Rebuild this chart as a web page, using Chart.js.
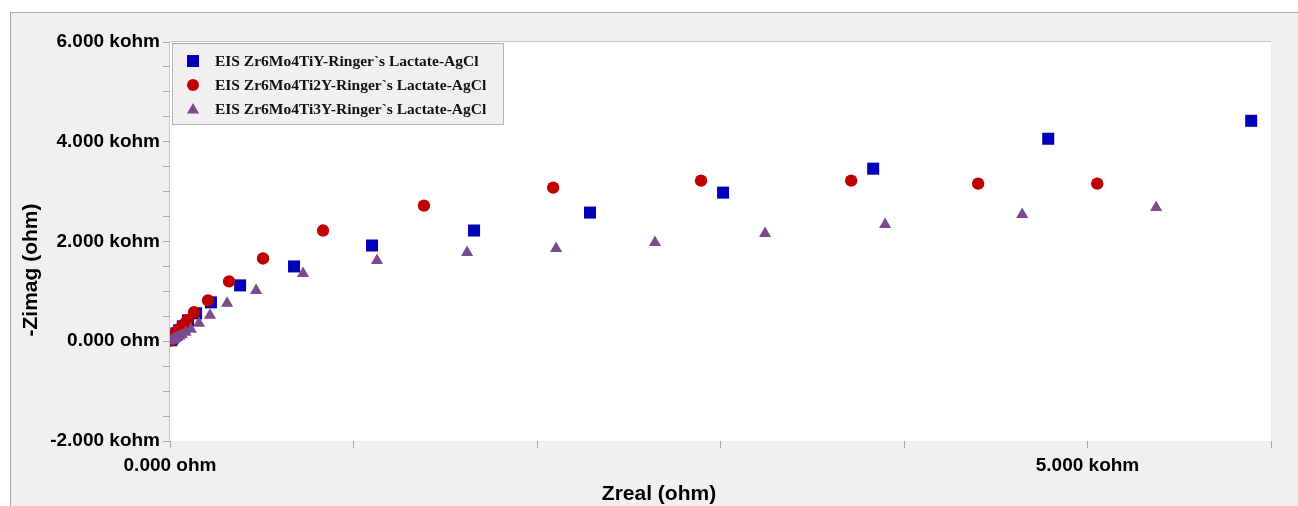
<!DOCTYPE html>
<html>
<head>
<meta charset="utf-8">
<script src="https://cdn.jsdelivr.net/npm/chart.js@4.4.1/dist/chart.umd.min.js"></script>
<style>
  html,body{margin:0;padding:0;background:#fff;}
  #wrap{width:1298px;height:506px;}
</style>
</head>
<body>
<div id="wrap"><canvas id="eis" width="1298" height="506"></canvas></div>
<script>
// series names
const seriesNames = [
  'EIS Zr6Mo4TiY-Ringer`s Lactate-AgCl',
  'EIS Zr6Mo4Ti2Y-Ringer`s Lactate-AgCl',
  'EIS Zr6Mo4Ti3Y-Ringer`s Lactate-AgCl'
];

// Zr6Mo4TiY (ohm)
const tiY_zreal = [5, 10, 15, 25, 35, 50, 70, 98, 142, 223, 382, 676, 1101, 1657, 2289, 3014, 3832, 4786, 5892];
const tiY_zimag = [20, 40, 70, 110, 160, 220, 300, 420, 560, 780, 1120, 1500, 1920, 2220, 2580, 2980, 3460, 4060, 4420];

// Zr6Mo4Ti2Y (ohm)
const ti2Y_zreal = [5, 9, 14, 20, 28, 38, 52, 70, 93, 131, 207, 322, 507, 834, 1384, 2088, 2894, 3712, 4404, 5053];
const ti2Y_zimag = [15, 35, 65, 100, 140, 190, 250, 320, 420, 580, 820, 1200, 1660, 2220, 2720, 3080, 3220, 3220, 3160, 3160];

// Zr6Mo4Ti3Y (ohm)
const ti3Y_zreal = [5, 9, 14, 20, 28, 38, 50, 65, 85, 114, 158, 218, 311, 469, 725, 1128, 1619, 2104, 2643, 3243, 3897, 4644, 5374];
const ti3Y_zimag = [8, 15, 25, 38, 55, 75, 100, 130, 180, 240, 360, 520, 760, 1020, 1360, 1620, 1780, 1860, 1980, 2160, 2340, 2540, 2680];

// tick labels
const xLabelValues = [0, 5000];
const xLabelTexts  = ['0.000 ohm', '5.000 kohm'];
const yLabelValues = [-2000, 0, 2000, 4000, 6000];
const yLabelTexts  = ['-2.000 kohm', '0.000 ohm', '2.000 kohm', '4.000 kohm', '6.000 kohm'];

const colors = ['#0000bb', '#c00000', '#7d4a8e'];
const styles = ['rect', 'circle', 'triangle'];
const radii  = [8.5, 6.2, 7];

const pts = (xs, ys) => xs.map((x, i) => ({x: x, y: ys[i]}));
const tickFont = {family: '"Liberation Sans", Arial, sans-serif', size: 19, weight: 'bold'};

const bgPlugin = {
  id: 'bg',
  beforeDraw(chart){
    const {ctx, width, height, chartArea: a} = chart;
    ctx.save();
    ctx.fillStyle = '#fff';
    ctx.fillRect(0, 0, width, height);
    ctx.fillStyle = '#f0f0f0';
    ctx.fillRect(10, 12, width - 10, height - 12);
    ctx.strokeStyle = '#a8a8a8';
    ctx.lineWidth = 1;
    ctx.strokeRect(10.5, 12.5, width, height);
    ctx.fillStyle = '#fff';
    ctx.fillRect(a.left, a.top, a.right - a.left, a.bottom - a.top);
    ctx.strokeStyle = '#c8c8c8';
    ctx.beginPath();
    ctx.moveTo(a.left - 0.5, a.bottom);
    ctx.lineTo(a.left - 0.5, a.top - 0.5);
    ctx.lineTo(a.right, a.top - 0.5);
    ctx.stroke();
    ctx.restore();
  }
};

const legendTitlesPlugin = {
  id: 'legendTitles',
  afterDraw(chart){
    const ctx = chart.ctx;
    ctx.save();
    // legend box
    ctx.fillStyle = '#f0f0f0';
    ctx.fillRect(172, 43, 331, 81);
    ctx.strokeStyle = '#b4b4b4';
    ctx.lineWidth = 1;
    ctx.strokeRect(172.5, 43.5, 331, 81);
    ctx.font = 'bold 15.5px "Liberation Serif", "Times New Roman", serif';
    ctx.textBaseline = 'middle';
    seriesNames.forEach((name, i) => {
      const y = 61 + i * 24;
      ctx.fillStyle = colors[i];
      Chart.helpers.drawPoint(ctx, {pointStyle: styles[i], radius: [8.5, 6, 7][i], rotation: 0, borderWidth: 0}, 193, y + (i === 2 ? 1 : 0));
      ctx.fillStyle = '#111';
      ctx.fillText(name, 215, y + 1);
    });
    // axis titles
    ctx.fillStyle = '#000';
    ctx.font = 'bold 21px "Liberation Sans", Arial, sans-serif';
    ctx.textAlign = 'center';
    ctx.fillText('Zreal (ohm)', 659, 494);
    ctx.translate(31, 270);
    ctx.rotate(-Math.PI / 2);
    ctx.fillText('-Zimag (ohm)', 0, 0);
    ctx.restore();
  }
};

const makeSet = (i, data, order) => ({
  label: seriesNames[i],
  data: data,
  pointStyle: styles[i],
  pointRadius: radii[i],
  pointBackgroundColor: colors[i],
  pointBorderColor: colors[i],
  pointBorderWidth: 0,
  showLine: false,
  order: order
});

new Chart(document.getElementById('eis'), {
  type: 'scatter',
  data: {
    datasets: [
      makeSet(0, pts(tiY_zreal, tiY_zimag), 3),
      makeSet(1, pts(ti2Y_zreal, ti2Y_zimag), 2),
      makeSet(2, pts(ti3Y_zreal, ti3Y_zimag), 1)
    ]
  },
  options: {
    responsive: false,
    animation: false,
    devicePixelRatio: 1,
    layout: {padding: {left: 0, top: 42, right: 27, bottom: 0}},
    plugins: {legend: {display: false}, tooltip: {enabled: false}},
    scales: {
      x: {
        type: 'linear', min: 0, max: 6000,
        afterFit: (s) => { s.height = 65; },
        border: {display: false},
        grid: {drawOnChartArea: false, drawTicks: true, tickLength: 7, color: '#a8a8a8'},
        ticks: {
          stepSize: 1000, autoSkip: false, maxRotation: 0, padding: 6,
          color: '#000', font: tickFont,
          callback: (v) => { const k = xLabelValues.indexOf(v); return k >= 0 ? xLabelTexts[k] : ''; }
        }
      },
      y: {
        type: 'linear', min: -2000, max: 6000,
        afterFit: (s) => { s.width = 170; },
        border: {display: false},
        grid: {drawOnChartArea: false, drawTicks: true, tickLength: 7, color: '#a8a8a8'},
        ticks: {
          stepSize: 500, autoSkip: false, padding: 3,
          color: '#000', font: tickFont,
          callback: (v) => { const k = yLabelValues.indexOf(v); return k >= 0 ? yLabelTexts[k] : ''; }
        }
      }
    }
  },
  plugins: [bgPlugin, legendTitlesPlugin]
});
</script>
</body>
</html>
